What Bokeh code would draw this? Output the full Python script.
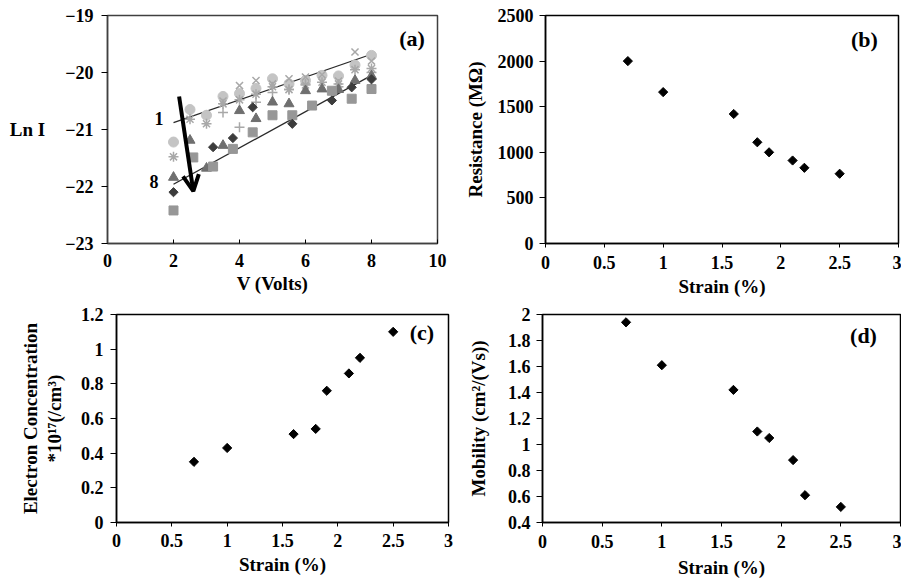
import numpy as np
from bokeh.plotting import figure
from bokeh.layouts import column, row
from bokeh.models import (FixedTicker, NumeralTickFormatter, Label, Arrow, OpenHead,
                          LinearAxis)
from bokeh.embed import file_html
from bokeh.resources import INLINE

FONT = "Liberation Serif"

# ---------------- data: panel (a) Ln I vs V ----------------
v_half = [2, 2.5, 3, 3.5, 4, 4.5, 5, 5.5, 6, 6.5, 7, 7.5, 8]
ln_circle = [-21.22, -20.65, -20.75, -20.42, -20.37, -20.28, -20.11, -20.2, -20.14, -20.05, -20.06, -19.87, -19.7]
v_x = [3.5, 4, 4.5, 5, 5.5, 6, 6.5, 7, 7.5, 8]
ln_x = [-20.5, -20.23, -20.14, -20.2, -20.11, -20.08, -20.04, -20.15, -19.64, -19.8]
ln_asterisk = [-21.48, -20.82, -20.9, -20.55, -20.48, -20.38, -20.25, -20.3, -20.22, -20.17, -20.2, -19.95, -19.93]
v_plus = [3.5, 4, 4.5, 5, 5.5, 6, 7, 8]
ln_plus = [-20.7, -20.96, -20.52, -20.35, -20.3, -20.2, -20.25, -20.0]
ln_triangle = [-21.84, -21.19, -21.68, -21.28, -20.67, -20.81, -20.52, -20.55, -20.32, -20.29, -20.3, -20.14, -20.06]
v_diamond = [2, 3.2, 3.8, 4.4, 5.6, 6.8, 7.4, 8]
ln_diamond = [-22.1, -21.31, -21.15, -20.61, -20.9, -20.49, -20.26, -20.12]
v_square = [2, 2.6, 3.2, 3.8, 4.4, 5, 5.6, 6.2, 6.8, 7.4, 8]
ln_square = [-22.42, -21.49, -21.65, -21.34, -21.05, -20.75, -20.75, -20.58, -20.32, -20.46, -20.29]
fit1_v = [2, 8]
fit1_ln = [-20.88, -19.68]
fit8_v = [2, 8]
fit8_ln = [-21.96, -20.05]
arrow_v = [2.17, 2.6]
arrow_ln = [-20.42, -22.08]
a_xticks = [0, 2, 4, 6, 8, 10]
a_yticks = [-23, -22, -21, -20, -19]

# ---------------- data: panels (b), (c), (d) ----------------
strain = [0.7, 1.0, 1.6, 1.8, 1.9, 2.1, 2.2, 2.5]
resistance = [2000, 1660, 1420, 1110, 1000, 910, 830, 765]
concentration = [0.35, 0.43, 0.51, 0.54, 0.76, 0.86, 0.95, 1.10]
mobility = [1.94, 1.61, 1.42, 1.10, 1.05, 0.88, 0.61, 0.52]
strain_ticks = [0, 0.5, 1, 1.5, 2, 2.5, 3]
res_ticks = [0, 500, 1000, 1500, 2000, 2500]
conc_ticks = [0, 0.2, 0.4, 0.6, 0.8, 1.0, 1.2]
mob_ticks = [0.4, 0.6, 0.8, 1.0, 1.2, 1.4, 1.6, 1.8, 2.0]


def make_fig(w, h, bl, br, bt, bb, xr, yr):
    p = figure(width=w, height=h, x_range=xr, y_range=yr, output_backend="svg",
               toolbar_location=None, min_border_left=bl, min_border_right=br,
               min_border_top=bt, min_border_bottom=bb)
    p.xgrid.visible = False
    p.ygrid.visible = False
    p.outline_line_color = "black"
    p.outline_line_width = 1.5
    p.background_fill_color = "white"
    p.border_fill_color = "white"
    return p


def style_axis(ax, ticks, label, fmt=None, tick_in=0, tick_out=4, standoff=6, lab_standoff=4):
    ax.ticker = FixedTicker(ticks=ticks)
    if fmt is not None:
        ax.formatter = fmt
    ax.axis_label = label
    ax.axis_label_text_font = FONT
    ax.axis_label_text_font_style = "bold"
    ax.axis_label_text_font_size = "19px"
    ax.axis_label_text_color = "black"
    ax.axis_label_standoff = lab_standoff
    ax.major_label_text_font = FONT
    ax.major_label_text_font_style = "bold"
    ax.major_label_text_font_size = "18px"
    ax.major_label_text_color = "black"
    ax.major_label_standoff = standoff
    ax.major_tick_in = tick_in
    ax.major_tick_out = tick_out
    ax.minor_tick_line_color = None
    ax.axis_line_color = "black"
    ax.axis_line_width = 1.5
    ax.major_tick_line_color = "black"
    ax.major_tick_line_width = 1


def panel_label(p, x, y, text):
    p.add_layout(Label(x=x, y=y, text=text, text_align="center", text_baseline="middle",
                       text_font=FONT, text_font_style="bold", text_font_size="22px",
                       text_color="black"))


num_fmt = NumeralTickFormatter(format="0.[0]")

# ---------------- panel (a) ----------------
pa = make_fig(455, 300, 107, 18, 15, 57, (0, 10), (-23, -19))
pa.outline_line_color = "#404040"
style_axis(pa.xaxis[0], a_xticks, "V (Volts)", tick_in=4, tick_out=0, standoff=10, lab_standoff=3)
style_axis(pa.yaxis[0], a_yticks, "Ln I", tick_out=6, standoff=8, lab_standoff=17)
pa.yaxis[0].axis_label_orientation = "horizontal"
pa.xaxis[0].axis_line_color = "#404040"
pa.yaxis[0].axis_line_color = "#404040"

pa.line(fit1_v, fit1_ln, line_color="#2a2a2a", line_width=1.3)
pa.line(fit8_v, fit8_ln, line_color="#2a2a2a", line_width=1.3)
pa.scatter(v_half, ln_circle, marker="circle", size=10, fill_color="#c4c4c4", line_color="#c4c4c4")
pa.scatter(v_x, ln_x, marker="x", size=10, line_color="#a8a8a8", line_width=1.5)
pa.scatter(v_half, ln_asterisk, marker="asterisk", size=10, line_color="#a8a8a8", line_width=1.5)
pa.scatter(v_plus, ln_plus, marker="cross", size=10, line_color="#a8a8a8", line_width=1.5)
pa.scatter(v_half, ln_triangle, marker="triangle", size=10, fill_color="#6f6f6f", line_color="#6f6f6f")
pa.scatter(v_square, ln_square, marker="square", size=9, fill_color="#979797", line_color="#979797")
pa.scatter(v_diamond, ln_diamond, marker="square", size=6.5, angle=np.pi / 4,
           fill_color="#3c3c3c", line_color="#3c3c3c")
pa.add_layout(Arrow(end=OpenHead(line_width=4, size=16, line_color="black"),
                    x_start=arrow_v[0], y_start=arrow_ln[0], x_end=arrow_v[1], y_end=arrow_ln[1],
                    line_width=4, line_color="black"))
for lx, ly, lt in [(1.56, -20.81, "1"), (1.41, -21.92, "8")]:
    pa.add_layout(Label(x=lx, y=ly, text=lt, text_align="center", text_baseline="middle",
                        text_font=FONT, text_font_style="bold", text_font_size="18px",
                        text_color="black"))
panel_label(pa, 9.23, -19.40, "(a)")

# ---------------- panel (b) ----------------
pb = make_fig(446, 300, 90, 3, 15, 56, (0, 3), (0, 2500))
style_axis(pb.xaxis[0], strain_ticks, "Strain (%)", fmt=num_fmt, tick_out=4, standoff=8, lab_standoff=4)
style_axis(pb.yaxis[0], res_ticks, "Resistance (MΩ)", tick_out=6, standoff=6, lab_standoff=9)
pb.scatter(strain, resistance, marker="square", size=6.5, angle=np.pi / 4,
           fill_color="black", line_color="black")
panel_label(pb, 2.71, 2235, "(b)")

# ---------------- panel (c) ----------------
pc = make_fig(458, 286, 116, 10, 14, 61, (0, 3), (0, 1.2))
style_axis(pc.xaxis[0], strain_ticks, "Strain (%)", fmt=num_fmt, tick_out=4, standoff=7, lab_standoff=4)
style_axis(pc.yaxis[0], conc_ticks, "*10¹⁷(/cm³)", fmt=num_fmt, tick_out=6, standoff=7, lab_standoff=13)
outer = LinearAxis()
style_axis(outer, [], "Electron Concentration", tick_out=0, standoff=0, lab_standoff=0)
outer.axis_line_color = None
outer.major_tick_line_color = None
pc.add_layout(outer, "left")
pc.scatter(strain, concentration, marker="square", size=6.5, angle=np.pi / 4,
           fill_color="black", line_color="black")
panel_label(pc, 2.76, 1.094, "(c)")

# ---------------- panel (d) ----------------
pd_ = make_fig(443, 286, 84, 1, 12, 64, (0, 3), (0.4, 2.0))
style_axis(pd_.xaxis[0], strain_ticks, "Strain (%)", fmt=num_fmt, tick_out=4, standoff=8, lab_standoff=6)
style_axis(pd_.yaxis[0], mob_ticks, "Mobility (cm²/(Vs))", fmt=num_fmt, tick_out=6, standoff=6, lab_standoff=16)
pd_.scatter(strain, mobility, marker="square", size=6.5, angle=np.pi / 4,
            fill_color="black", line_color="black")
panel_label(pd_, 2.69, 1.84, "(d)")

layout = column(row(pa, pb), row(pc, pd_))
open("out.html", "w").write(file_html(layout, INLINE))
